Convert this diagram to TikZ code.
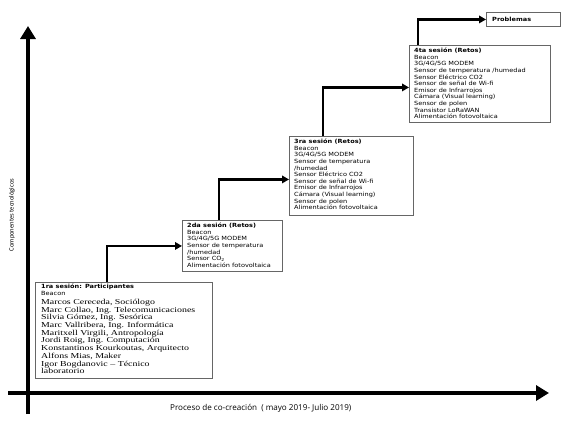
\documentclass[tikz,border=0pt]{standalone}
\usepackage{fontspec}
\usetikzlibrary{arrows.meta,calc}
\newfontfamily\boxfont[FakeStretch=1.15]{DejaVu Sans}
\newfontfamily\serfont[FakeStretch=1.3]{Liberation Serif}
\newfontfamily\axfont{Open Sans}
\newfontfamily\ylabfont{Carlito}
\begin{document}
\begin{tikzpicture}[x=1pt,y=-1pt,
  box/.style={draw=black!60, line width=0.9pt, anchor=north west, inner sep=0, fill=white},
  txt/.style={anchor=north west, inner sep=0, align=left, font={\boxfont\fontsize{5.7}{6.6}\selectfont}},
  sertxt/.style={anchor=north west, inner sep=0, align=left, font={\serfont\fontsize{7.6}{7.7}\selectfont}},
  steparrow/.style={line width=2.4pt, -{Triangle[length=7pt,width=7.5pt]}},
  axisline/.style={line width=4.2pt, -{Triangle[length=13pt,width=15pt]}}]
\useasboundingbox (0,0) rectangle (575,421);
% axes
\coordinate (ybot) at (28,414);
\coordinate (ytop) at (28,26);
\coordinate (xleft) at (8,393);
\coordinate (xright) at (549,393);
\draw[axisline] (ybot) -- (ytop);
\draw[axisline] (xleft) -- (xright);
\node[rotate=90, inner sep=0, font={\ylabfont\fontsize{6.6}{7}\selectfont}] (ylab) at (12,215) {Componentes tecnológicos};
\node[anchor=west, inner sep=0, font={\axfont\fontsize{8.1}{9}\selectfont}] (xlab) at (170,408) {Proceso de co-creación\ \ ( mayo 2019- Julio 2019)};
% boxes
\node[box, minimum width=177pt, minimum height=96pt] (b1) at (35,282) {};
\node[box, minimum width=100pt, minimum height=51pt] (b2) at (182,220) {};
\node[box, minimum width=124pt, minimum height=79pt] (b3) at (289,136) {};
\node[box, minimum width=141pt, minimum height=77pt] (b4) at (409,45) {};
\node[box, minimum width=74pt, minimum height=14pt] (b5) at (486,12) {};
% texts
\node[txt] (t1a) at (41,284) {\bfseries 1ra sesión: Participantes\\Beacon};
\node[sertxt] (t1b) at (41,299) {Marcos Cereceda, Sociólogo\\Marc Collao, Ing. Telecomunicaciones\\Silvia Gómez, Ing. Sesórica\\Marc Vallribera, Ing. Informática\\Maritxell Virgili, Antropología\\Jordi Roig, Ing. Computación\\Konstantinos Kourkoutas, Arquitecto\\Alfons Mias, Maker\\Igor Bogdanovic – Técnico\\laboratorio};
\node[txt] (t2) at (187,223) {\bfseries 2da sesión (Retos)\\Beacon\\3G/4G/5G MODEM\\Sensor de temperatura\\/humedad\\Sensor CO\textsubscript{2}\\Alimentación fotovoltaica};
\node[txt] (t3) at (294,139) {\bfseries 3ra sesión (Retos)\\Beacon\\3G/4G/5G MODEM\\Sensor de temperatura\\/humedad\\Sensor Eléctrico CO2\\Sensor de señal de Wi-fi\\Emisor de Infrarrojos\\Cámara (Visual learning)\\Sensor de polen\\Alimentación fotovoltaica};
\node[txt] (t4) at (414,48) {\bfseries 4ta sesión (Retos)\\Beacon\\3G/4G/5G MODEM\\Sensor de temperatura /humedad\\Sensor Eléctrico CO2\\Sensor de señal de Wi-fi\\Emisor de Infrarrojos\\Cámara (Visual learning)\\Sensor de polen\\Transistor LoRaWAN\\Alimentación fotovoltaica};
\node[txt, anchor=west] (t5) at (492,19) {\bfseries Problemas};
% step connectors
\draw[steparrow] ($(b1.north west)+(72,0)$) |- (b2.west);
\draw[steparrow] ($(b2.north west)+(37,0)$) |- ([yshift=-3.5pt]b3.west);
\draw[steparrow] ($(b3.north west)+(34,0)$) |- ([yshift=-3.5pt]b4.west);
\draw[steparrow] ($(b4.north west)+(9,0)$) |- (b5.west);
\end{tikzpicture}
\end{document}
